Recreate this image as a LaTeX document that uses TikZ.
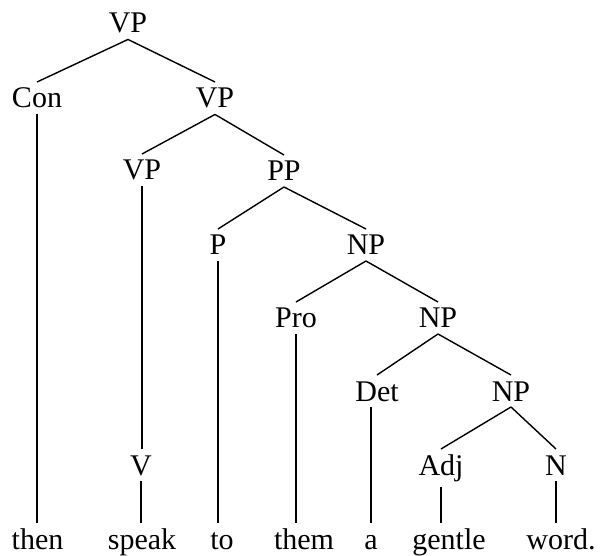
\documentclass[tikz,border=0pt]{standalone}
\usepackage{fontspec}
\setmainfont{Liberation Serif}

\begin{document}
\begin{tikzpicture}[x=1pt,y=-1pt,
    cat/.style={anchor=base,inner sep=0pt,outer ysep=6pt,text height=20pt,
      font=\fontsize{30}{36}\selectfont},
    branch/.style={line width=1.4pt}]
  \useasboundingbox (0,0) rectangle (603,556);
  % categories
  \node [cat] (root) at (128,33) {VP};
  \node [cat] (con) at (37,108) {Con};
  \node [cat] (vpb) at (215,108) {VP};
  \node [cat] (vpc) at (142,180) {VP};
  \node [cat] (pp) at (284,181) {PP};
  \node [cat] (p) at (218,255) {P};
  \node [cat] (npa) at (366,255) {NP};
  \node [cat] (pro) at (296,328) {Pro};
  \node [cat] (npb) at (438,328) {NP};
  \node [cat] (det) at (377,401) {Det};
  \node [cat] (npc) at (511,401) {NP};
  \node [cat] (v) at (141,475) {V};
  \node [cat] (adj) at (441,475) {Adj};
  \node [cat] (n) at (556,475) {N};
  % words
  \foreach \w/\x in {then/37.5,speak/142,to/222,them/304,a/371,gentle/449}
    \node [cat] (\w) at (\x,549) {\w};
  \node [cat] (word) at (561,549) {word.};
  % branches
  \foreach \a/\b in {root/con,root/vpb,vpb/vpc,vpb/pp,pp/p,pp/npa,npa/pro,
      npa/npb,npb/det,npb/npc,npc/adj,npc/n}
    \draw [branch] (\a.south) -- (\b.north);
  \foreach \a/\b in {con/then,vpc/v,v/speak,p/to,pro/them,adj/gentle,n/word}
    \draw [branch] (\a.south) -- (\a.south |- \b.north);
  \draw [branch] (a.north |- det.south) -- (a.north);
\end{tikzpicture}
\end{document}
